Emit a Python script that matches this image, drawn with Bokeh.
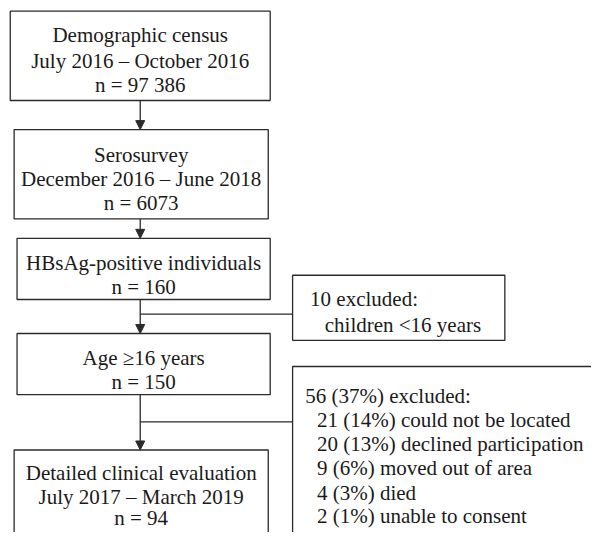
from bokeh.plotting import figure
from bokeh.models import Range1d, Arrow, NormalHead
from bokeh.core.properties import value
from bokeh.embed import file_html
from bokeh.resources import INLINE

# ---- content (texts) ----
main_labels = [
    ["Demographic census", "July 2016 \u2013 October 2016", "n = 97 386"],
    ["Serosurvey", "December 2016 \u2013 June 2018", "n = 6073"],
    ["HBsAg-positive individuals", "n = 160"],
    ["Age \u226516 years", "n = 150"],
    ["Detailed clinical evaluation", "July 2017 \u2013 March 2019", "n = 94"],
]
excl1_labels = ["10 excluded:", "children <16 years"]
excl2_labels = ["56 (37%) excluded:", "21 (14%) could not be located",
                "20 (13%) declined participation", "9 (6%) moved out of area",
                "4 (3%) died", "2 (1%) unable to consent"]

# ---- layout (pixel positions in the 607x548 reference frame) ----
main_boxes = [(10, 277, 11, 103), (14, 275, 133, 225), (17, 277, 245, 308),
              (17, 277, 343, 406), (14, 275, 463, 570)]  # left, right, top, bottom
main_baselines = [[36, 62, 87], [159, 184, 209], [270, 295], [368, 393], [487, 511, 533]]
excl1_box = (300, 518, 283, 350)
excl1_pos = [(318, 307), (333, 334)]
excl2_box = (300, 640, 377, 570)
excl2_x = [313, 325, 325, 325, 325, 325]
excl2_base = [407, 432, 457, 482, 507, 531]
trunk_x = 143.5

FONT = value("Liberation Serif")
FS = "21px"
LC = "#2a2a2a"

p = figure(width=591, height=532, output_backend="svg", toolbar_location=None,
           x_range=Range1d(0, 607), y_range=Range1d(548, 0),
           min_border=0, outline_line_color=None)
p.axis.visible = False
p.grid.visible = False

boxes = main_boxes + [excl1_box, excl2_box]
p.quad(left=[b[0] for b in boxes], right=[b[1] for b in boxes],
       top=[b[2] for b in boxes], bottom=[b[3] for b in boxes],
       fill_color=None, line_color=LC, line_width=1.3)

# main box texts
tx, ty, tt = [], [], []
for b, lines, bases in zip(main_boxes, main_labels, main_baselines):
    cx = (b[0] + b[1]) / 2
    for t, y in zip(lines, bases):
        tx.append(cx); ty.append(y); tt.append(t)
p.text(x=tx, y=ty, text=tt, text_font=FONT, text_font_size=FS,
       text_align="center", text_baseline="alphabetic", text_color="#1a1a1a")

# exclusion texts
lx = [q[0] for q in excl1_pos] + excl2_x
ly = [q[1] for q in excl1_pos] + excl2_base
lt = excl1_labels + excl2_labels
p.text(x=lx, y=ly, text=lt, text_font=FONT, text_font_size=FS,
       text_align="left", text_baseline="alphabetic", text_color="#1a1a1a")

# arrows between main boxes
for i in range(len(main_boxes) - 1):
    y0 = main_boxes[i][3]
    y1 = main_boxes[i + 1][2]
    p.add_layout(Arrow(end=NormalHead(size=9, fill_color=LC, line_color=LC),
                       x_start=trunk_x, y_start=y0, x_end=trunk_x, y_end=y1,
                       line_color=LC, line_width=1.3))

# branch lines to exclusion boxes
branch_y = [323, 434]
p.segment(x0=[trunk_x, trunk_x], y0=branch_y, x1=[excl1_box[0], excl2_box[0]], y1=branch_y,
          line_color=LC, line_width=1.3)

open("out.html", "w").write(file_html(p, INLINE))
